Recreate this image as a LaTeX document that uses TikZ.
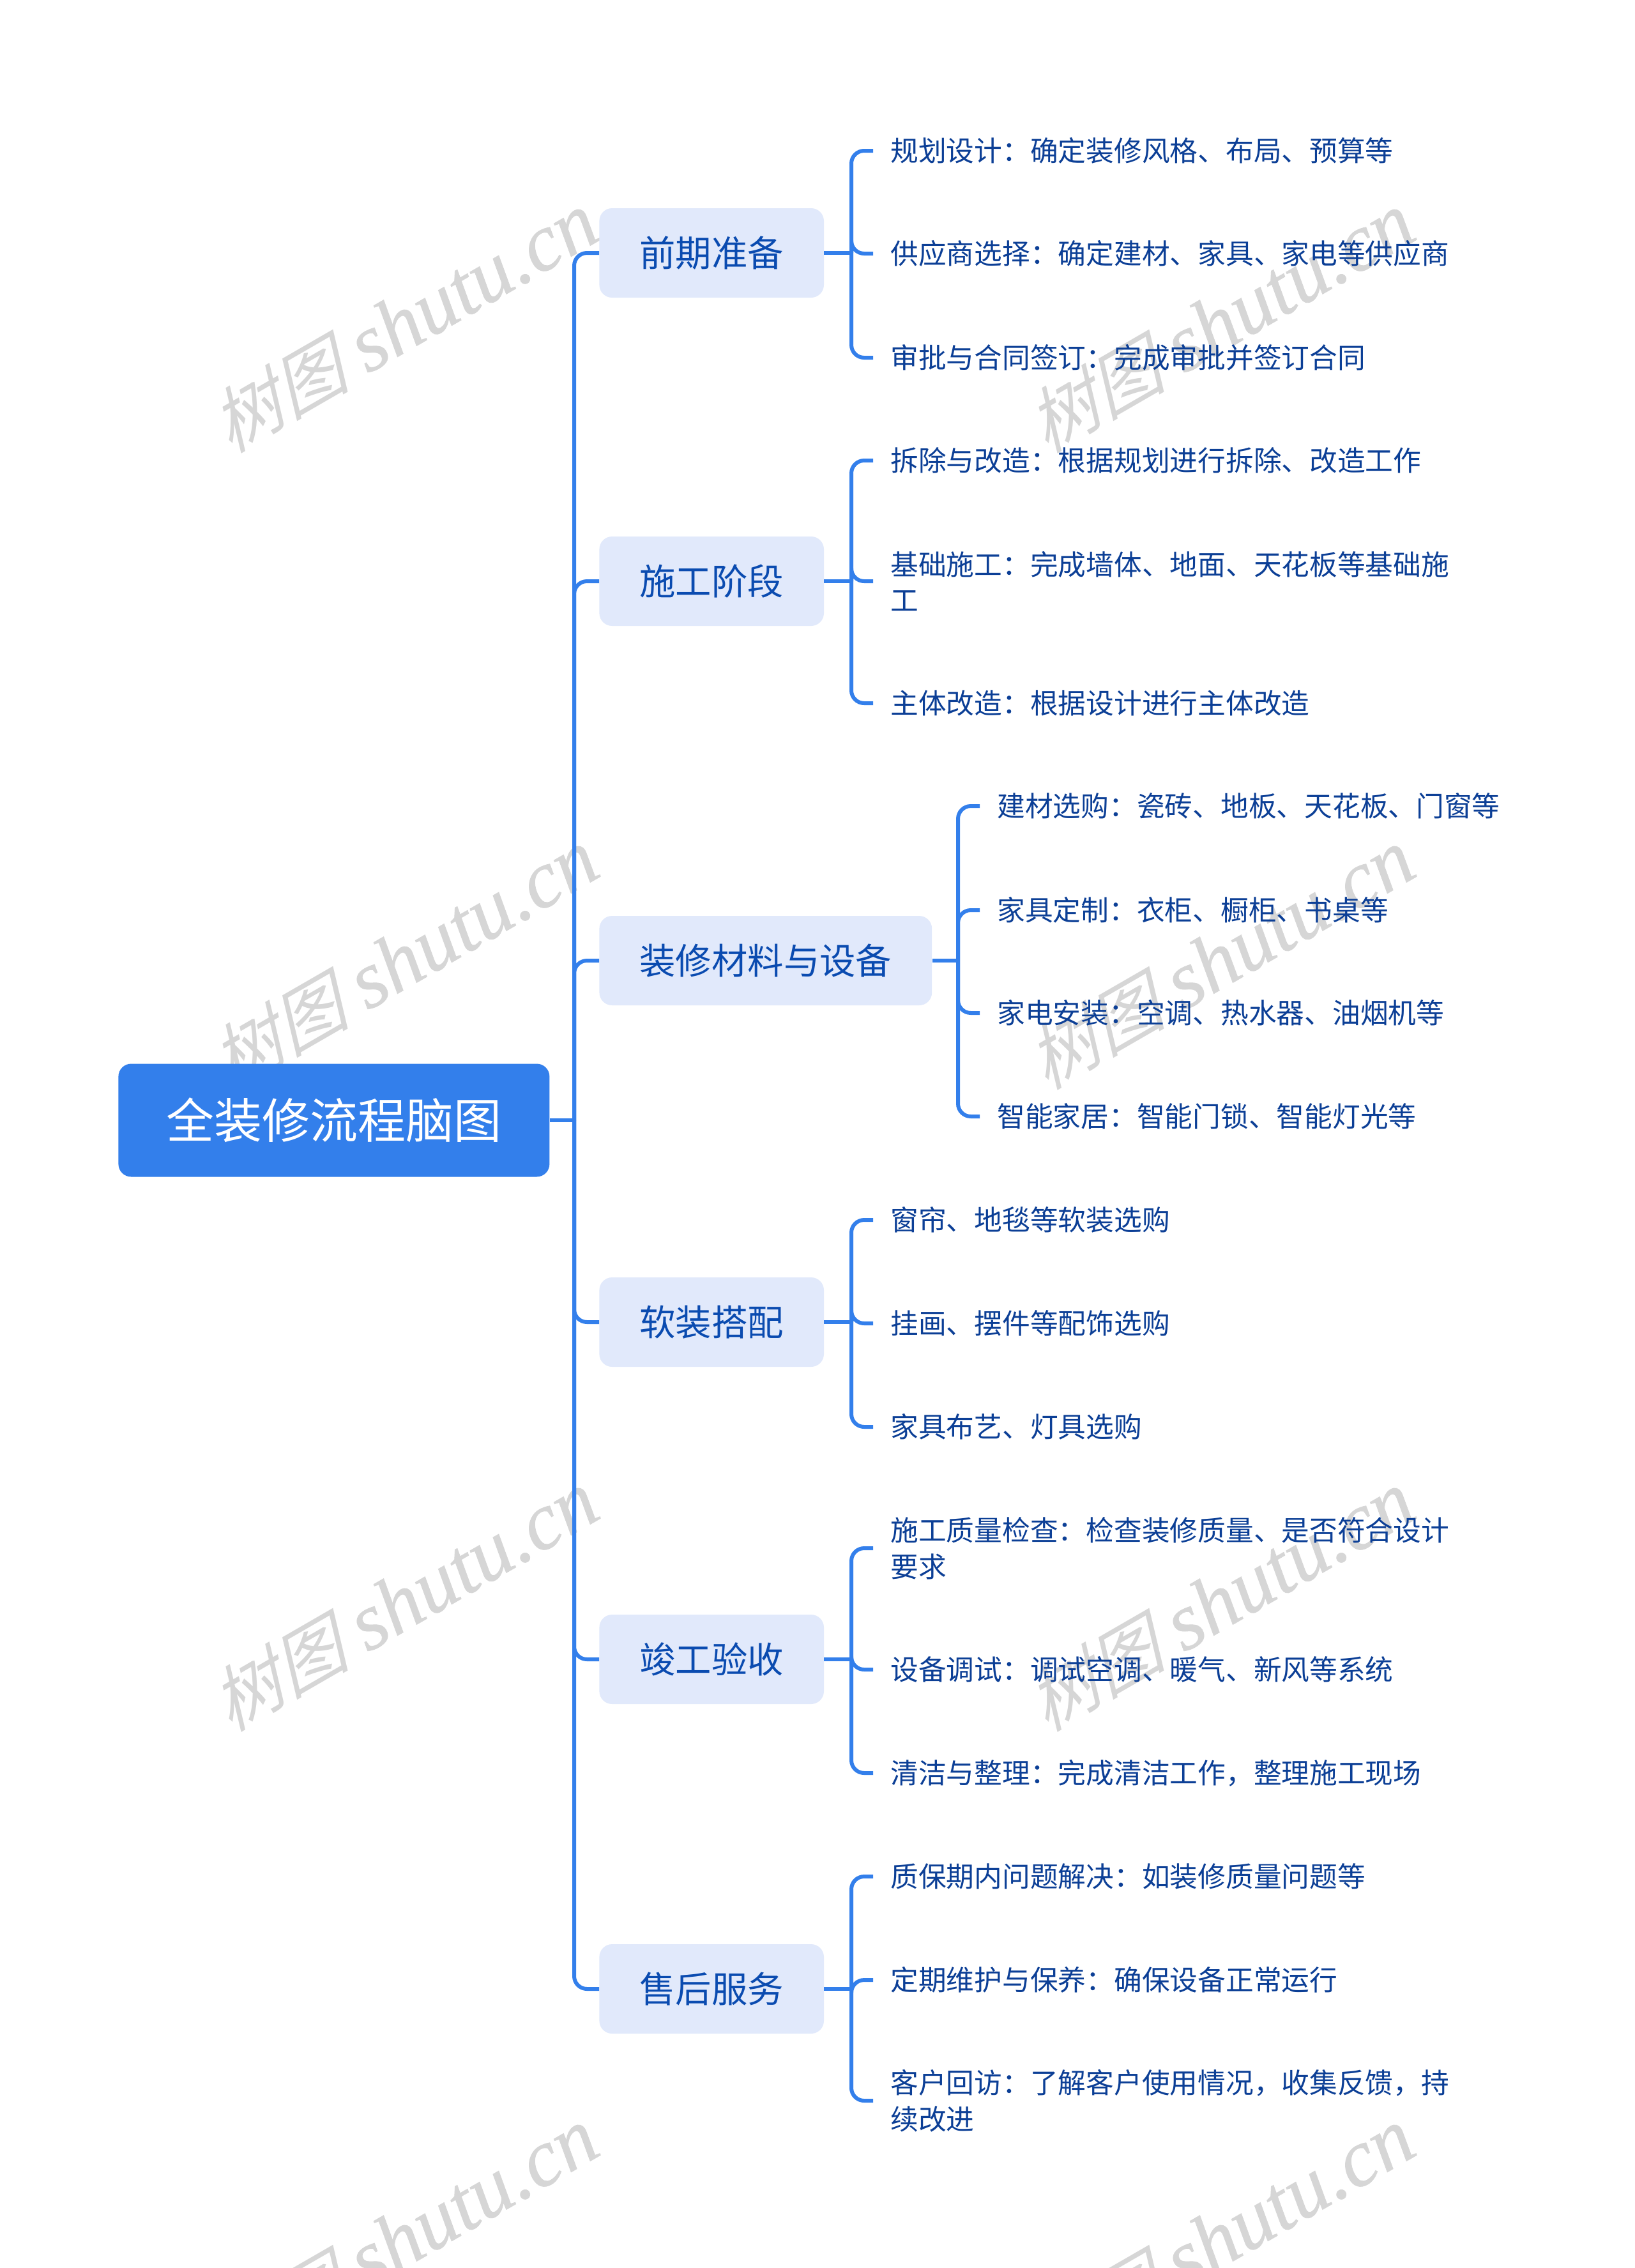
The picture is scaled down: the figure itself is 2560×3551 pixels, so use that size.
\documentclass[tikz,border=0pt]{standalone}
\usepackage{fontspec}
\setmainfont{Noto Sans CJK SC}
\newfontfamily\markcjk[FakeSlant=0.3]{Noto Sans CJK SC}
\newfontfamily\markfont[FakeBold=0.6]{Liberation Serif Italic}
\usepackage{xcolor}
\usetikzlibrary{positioning}
\definecolor{linkblue}{HTML}{337FEB}
\definecolor{branchfill}{HTML}{E1E9FB}
\definecolor{branchtext}{HTML}{0A4BB0}
\definecolor{leaftext}{HTML}{0C3F96}
\definecolor{markgray}{HTML}{D6D6D6}
\tikzset{
  rootbox/.style={anchor=west, fill=linkblue, text=white, rounded corners=10pt, inner xsep=37.5pt, inner ysep=0pt,
    minimum height=88.5pt, font=\fontsize{37.5}{44}\selectfont},
  branchbox/.style={anchor=west, fill=branchfill, text=branchtext, rounded corners=10pt, inner xsep=31.5pt, inner ysep=0pt,
    minimum height=70pt, font=\fontsize{28.2}{34}\selectfont},
  leafbox/.style={anchor=west, text=leaftext, align=left, inner xsep=13.5pt, inner ysep=0pt,
    font=\fontsize{21.87}{28.3}\selectfont},
  link/.style={draw=linkblue, line width=3pt, rounded corners=10pt},
  watermark/.style={text=markgray, rotate=30, anchor=center, inner sep=0pt, font=\fontsize{63.5}{70}\selectfont}
}
\begin{document}
\begin{tikzpicture}[x=0.5pt, y=-0.5pt]
    \useasboundingbox (0,0) rectangle (2560,3551);
    \fill[white] (0,0) rectangle (2560,3551);

    % Watermark
    \begin{scope}
    \clip (0,0) rectangle (2560,3551);
    \foreach \mx/\my [count=\i] in {632/505, 1910/505, 632/1502, 1910/1502, 632/2507, 1910/2507, 632/3504, 1910/3504}
      \node[watermark] (mark\i) at (\mx,\my) {{\markcjk\fontsize{55}{60}\selectfont 树图} {\markfont shutu.cn}};
    \end{scope}

    % Root
    \node[rootbox] (root) at (185,1754) {全装修流程脑图};
    \coordinate (hub) at (899,1754);
    \draw[link] (root.east) -- (hub);

    % Branches
    \foreach \nm/\hx/\yy/\txt in {prep/1333/396/前期准备, build/1333/910/施工阶段, material/1500/1504/装修材料与设备,
      soft/1333/2070/软装搭配, accept/1333/2598/竣工验收, service/1333/3114/售后服务} {
      \node[branchbox] (\nm) at (938,\yy) {\txt};
      \coordinate (\nm hub) at (\hx,\yy);
      \draw[link] (hub) |- (\nm.west);
      \draw[link] (\nm.east) -- (\nm hub);
    }

    % Leaves
    \foreach \br/\lx/\ly/\txt [count=\i] in {
      prep/1367/236/规划设计：确定装修风格、布局、预算等,
      prep/1367/397/供应商选择：确定建材、家具、家电等供应商,
      prep/1367/560/审批与合同签订：完成审批并签订合同,
      build/1367/721/拆除与改造：根据规划进行拆除、改造工作,
      build/1367/910/{基础施工：完成墙体、地面、天花板等基础施\\工},
      build/1367/1101/主体改造：根据设计进行主体改造,
      material/1534/1262/建材选购：瓷砖、地板、天花板、门窗等,
      material/1534/1425/家具定制：衣柜、橱柜、书桌等,
      material/1534/1586/家电安装：空调、热水器、油烟机等,
      material/1534/1748/智能家居：智能门锁、智能灯光等,
      soft/1367/1910/窗帘、地毯等软装选购,
      soft/1367/2072/挂画、摆件等配饰选购,
      soft/1367/2234/家具布艺、灯具选购,
      accept/1367/2424/{施工质量检查：检查装修质量、是否符合设计\\要求},
      accept/1367/2614/设备调试：调试空调、暖气、新风等系统,
      accept/1367/2776/清洁与整理：完成清洁工作，整理施工现场,
      service/1367/2938/质保期内问题解决：如装修质量问题等,
      service/1367/3100/定期维护与保养：确保设备正常运行,
      service/1367/3289/{客户回访：了解客户使用情况，收集反馈，持\\续改进}} {
      \node[leafbox] (leaf\i) at (\lx,\ly) {\txt};
      \draw[link] (\br hub) |- (leaf\i.west);
    }
\end{tikzpicture}
\end{document}
